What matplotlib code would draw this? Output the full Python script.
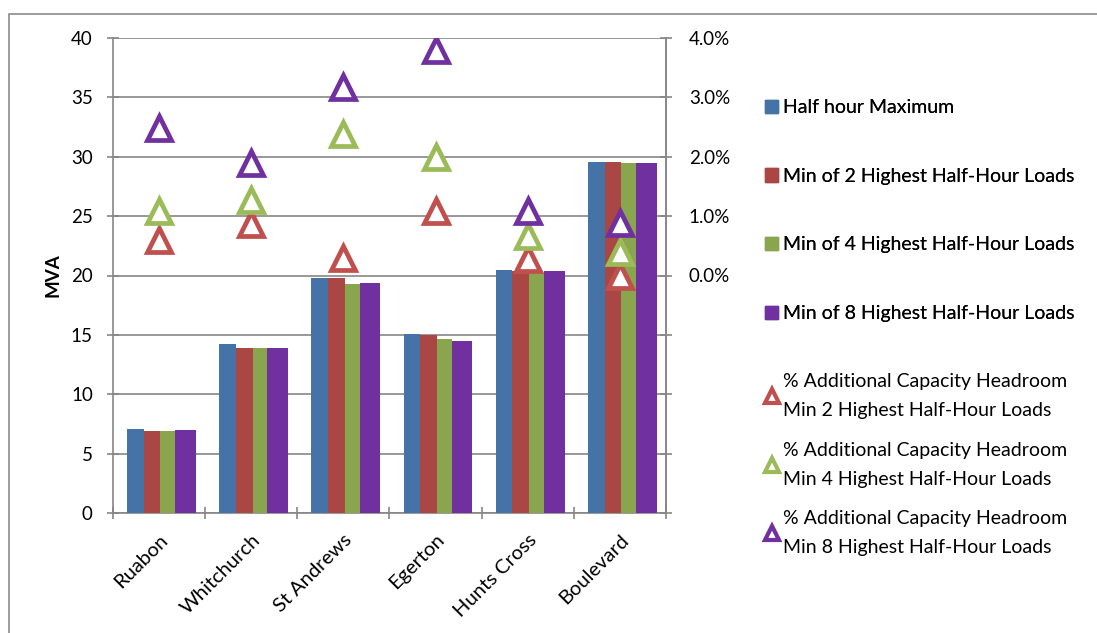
import matplotlib.pyplot as plt
import numpy as np
from matplotlib.lines import Line2D
from matplotlib.patches import Patch, Rectangle
from matplotlib.ticker import FuncFormatter, FixedLocator

plt.rcParams["font.family"] = ["Lato", "DejaVu Sans"]

sites = ["Ruabon", "Whitchurch", "St Andrews", "Egerton", "Hunts Cross", "Boulevard"]

# MVA loads (left axis)
half_hour_max = [7.1, 14.2, 19.8, 15.05, 20.5, 29.6]
min_2_highest = [6.9, 13.9, 19.8, 14.95, 20.4, 29.6]
min_4_highest = [6.9, 13.9, 19.25, 14.65, 20.2, 29.45]
min_8_highest = [7.0, 13.9, 19.35, 14.45, 20.35, 29.45]

# % additional capacity headroom (right axis)
headroom_min2 = [0.6, 0.86, 0.29, 1.09, 0.27, 0.0]
headroom_min4 = [1.09, 1.28, 2.39, 1.99, 0.67, 0.39]
headroom_min8 = [2.49, 1.89, 3.18, 3.79, 1.09, 0.89]

bar_labels = [
    "Half hour Maximum",
    "Min of 2 Highest Half-Hour Loads",
    "Min of 4 Highest Half-Hour Loads",
    "Min of 8 Highest Half-Hour Loads",
]
marker_labels = [
    "% Additional Capacity Headroom\nMin 2 Highest Half-Hour Loads",
    "% Additional Capacity Headroom\nMin 4 Highest Half-Hour Loads",
    "% Additional Capacity Headroom\nMin 8 Highest Half-Hour Loads",
]

bar_colors = ["#4572A7", "#AA4643", "#89A54E", "#71309F"]
marker_colors = ["#C0504D", "#9BBB59", "#7030A0"]
grid_color = "#868686"

W, H = 1097, 633
fig = plt.figure(figsize=(W / 100, H / 100), dpi=100)
ax = fig.add_axes([113 / W, (H - 513) / H, (666 - 113) / W, (513 - 38) / H])

# outer chart-area border (only top and left edges visible)
fig.patches.append(Rectangle((9 / W, -0.1), 1.2, 1.1 - 14 / H, transform=fig.transFigure,
                             fill=False, edgecolor="#8c8c8c", linewidth=1.2))

x = np.arange(len(sites))
bar_series = [half_hour_max, min_2_highest, min_4_highest, min_8_highest]
lefts = [-0.347, -0.166, 0.015, 0.175]
widths = [0.181, 0.181, 0.16, 0.225]
for vals, left, w, color, label in zip(bar_series, lefts, widths, bar_colors, bar_labels):
    ax.bar(x + left, vals, width=w, align="edge", color=color, label=label, zorder=3)

ax.set_xlim(-0.5, len(sites) - 0.5)
ax.set_ylim(0, 40)
ax.set_yticks(np.arange(0, 41, 5))
ax.grid(axis="y", color=grid_color, linewidth=1.2, zorder=0)
ax.set_axisbelow(True)
ax.spines["top"].set_visible(False)
for side in ["left", "bottom", "right"]:
    ax.spines[side].set_color(grid_color)
    ax.spines[side].set_linewidth(1.2)

ax.set_xticks(x)
ax.set_xticklabels(sites, rotation=45, ha="right", rotation_mode="anchor", fontsize=14.5)
ax.xaxis.set_minor_locator(FixedLocator(np.arange(-0.5, len(sites), 1.0)))
ax.tick_params(axis="x", which="major", length=0, pad=13)
ax.tick_params(axis="x", which="minor", direction="inout", length=9, color=grid_color, width=1.2)
ax.tick_params(axis="y", direction="inout", length=9, color=grid_color, width=1.2,
               labelsize=13.5, pad=10)
ax.set_ylabel("MVA", fontsize=13.5, fontweight="bold", labelpad=7)

ax2 = ax.twinx()
ax2.set_ylim(-4, 4)
ax2.set_yticks(np.arange(-4, 4.1, 1))
ax2.yaxis.set_major_formatter(FuncFormatter(lambda v, p: f"{v:.1f}%" if v >= -1e-9 else ""))
ax2.tick_params(axis="y", direction="inout", length=9, color=grid_color, width=1.2,
                labelsize=13.5, pad=12)
for side in ["top", "left", "bottom"]:
    ax2.spines[side].set_visible(False)
ax2.spines["right"].set_color(grid_color)
ax2.spines["right"].set_linewidth(1.2)

marker_series = [headroom_min2, headroom_min4, headroom_min8]
for vals, color, label in zip(marker_series, marker_colors, marker_labels):
    ax2.plot(x, vals, linestyle="none", marker="^", markersize=17, markerfacecolor="white",
             markeredgecolor=color, markeredgewidth=3.4, label=label, zorder=4)

bar_handles = [Patch(facecolor=c, edgecolor=c) for c in bar_colors]
leg1 = fig.legend(bar_handles, bar_labels, loc="upper left", bbox_to_anchor=(765 / W, 1 - 99 / H),
                  frameon=False, fontsize=14, handlelength=0.68, handleheight=0.68,
                  handletextpad=0.25, labelspacing=2.66, borderpad=0, borderaxespad=0)
marker_handles = [Line2D([], [], linestyle="none", marker="^", markersize=10, markerfacecolor="white",
                         markeredgecolor=c, markeredgewidth=3.0) for c in marker_colors]
leg2 = fig.legend(marker_handles, marker_labels, loc="upper left", bbox_to_anchor=(765 / W, 1 - 373 / H),
                  frameon=False, fontsize=14, handlelength=0.68, handletextpad=0.25,
                  labelspacing=1.17, borderpad=0, borderaxespad=0)
for t in leg2.get_texts():
    t.set_linespacing(1.85)
fig.add_artist(leg1)

fig.savefig("out.png", dpi=100)
